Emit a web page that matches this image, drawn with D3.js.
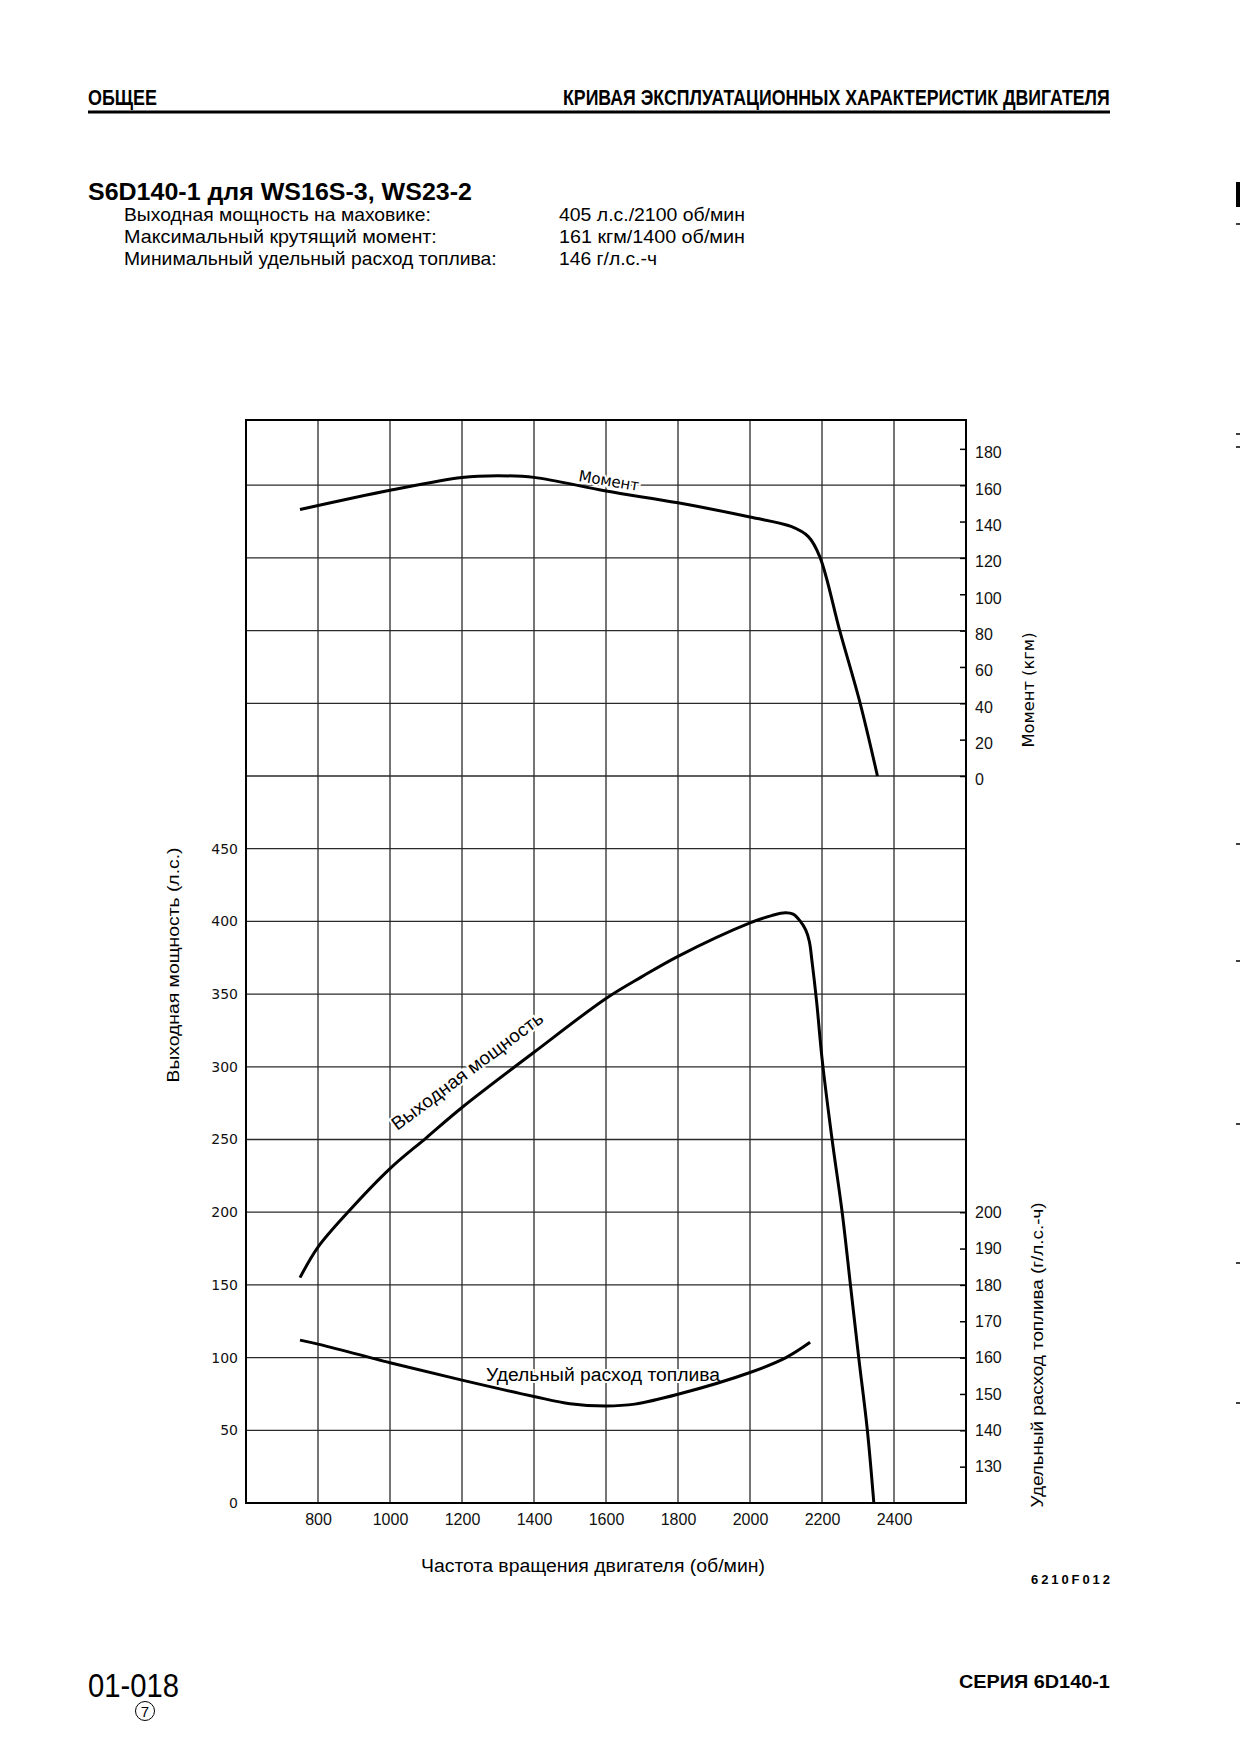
<!DOCTYPE html>
<html>
<head>
<meta charset="utf-8">
<script src="https://cdn.jsdelivr.net/npm/d3@7"></script>
<style>
  body { margin: 0; background: #fff; }
  svg { display: block; }
  .sans { font-family: "Liberation Sans", Arial, sans-serif; }
  .narrow { font-family: "Liberation Sans Narrow", "Liberation Sans", Arial, sans-serif; }
  .geo { font-family: "DejaVu Sans", sans-serif; }
</style>
</head>
<body>
<svg width="1240" height="1754"></svg>
<script>
// values
var rpmTicks = [800, 1000, 1200, 1400, 1600, 1800, 2000, 2200, 2400];
var rpmGrid = [600, 800, 1000, 1200, 1400, 1600, 1800, 2000, 2200, 2400, 2600];
var powerTicks = [0, 50, 100, 150, 200, 250, 300, 350, 400, 450];
var powerGrid = [0, 50, 100, 150, 200, 250, 300, 350, 400, 450, 500, 550, 600, 650, 700];
var torqueTicks = [0, 20, 40, 60, 80, 100, 120, 140, 160, 180];
var fuelTicks = [130, 140, 150, 160, 170, 180, 190, 200];

// [rpm, л.с.]
var powerCurve = [[750,155],[800,176],[883,200],[1000,230],[1100,251],[1200,272],[1400,310],
  [1600,347],[1700,362],[1800,376],[2000,399],[2060,404],[2098,406],[2120,405],[2140,400],
  [2155,394],[2165,386],[2172,373],[2185,345],[2200,306],[2228,250],[2256,200],[2279,150],
  [2302,100],[2326,50],[2344,0]];
// [rpm, кгм]
var torqueCurve = [[750,146.6],[1000,157.2],[1200,164.3],[1300,165.2],[1400,164.3],
  [1600,156.8],[1800,150.3],[2000,142.5],[2114,137.3],[2162,131.7],[2194,120.6],
  [2250,79.4],[2306,40],[2354,0]];
// [rpm, г/л.с.-ч]
var fuelCurve = [[750,164.8],[800,163.7],[1000,158.6],[1200,153.8],[1400,149.3],[1500,147.3],
  [1600,146.7],[1680,147.2],[1800,149.9],[2000,155.9],[2100,160],[2167,164.2]];

var specLabels = ["Выходная мощность на маховике:", "Максимальный крутящий момент:", "Минимальный удельный расход топлива:"];
var specValues = ["405 л.с./2100 об/мин", "161 кгм/1400 об/мин", "146 г/л.с.-ч"];

var svg = d3.select("svg");
svg.append("rect").attr("width", 1240).attr("height", 1754).attr("fill", "#fff");

var plotLeft = 246, plotRight = 966, plotTop = 420, plotBottom = 1503, rowH = 72.7;

var x = d3.scaleLinear().domain([600, 2600]).range([plotLeft, plotRight]);
var yPower = d3.scaleLinear().domain([0, 50]).range([plotBottom, plotBottom - rowH]);
var yTorque = d3.scaleLinear().domain([0, 40]).range([plotBottom - 10 * rowH, plotBottom - 11 * rowH]);
var yFuel = d3.scaleLinear().domain([120, 140]).range([plotBottom, plotBottom - rowH]);

// squeezed text: scale the glyphs horizontally to the width seen on the sheet
function squeezed(cls, t, x0, y0, fs, w, weight, anchor) {
  var g = svg.append("g");
  var el = g.append("text").attr("class", cls).attr("font-size", fs)
    .attr("font-weight", weight || "normal").text(t);
  var k = w / el.node().getComputedTextLength();
  var left0 = anchor === "end" ? x0 - w : x0;
  g.attr("transform", "translate(" + left0 + "," + y0 + ") scale(" + k + ",1)");
  return el;
}

// page header
squeezed("narrow", "ОБЩЕЕ", 88, 105, 22, 69, "bold");
squeezed("narrow", "КРИВАЯ ЭКСПЛУАТАЦИОННЫХ ХАРАКТЕРИСТИК ДВИГАТЕЛЯ", 1110, 105, 22, 547, "bold", "end");
svg.append("line").attr("x1", 88).attr("x2", 1110).attr("y1", 112).attr("y2", 112)
  .attr("stroke", "#000").attr("stroke-width", 3);

squeezed("sans", "S6D140-1 для WS16S-3, WS23-2", 88, 200, 24, 384, "bold");

var specW = [307, 313, 373];
var valW = [186, 186, 98];
specLabels.forEach(function(t, i) {
  squeezed("sans", t, 124, 221 + i * 22, 18, specW[i]);
  squeezed("sans", specValues[i], 559, 221 + i * 22, 18, valW[i]);
});

// grid
var grid = svg.append("g").attr("stroke", "#2a2a2a").attr("stroke-width", 1.3);
grid.selectAll("line.v").data(rpmGrid).enter().append("line").attr("class", "v")
  .attr("x1", d => x(d)).attr("x2", d => x(d))
  .attr("y1", plotTop).attr("y2", plotBottom);
grid.selectAll("line.h").data(powerGrid).enter().append("line").attr("class", "h")
  .attr("x1", plotLeft).attr("x2", plotRight)
  .attr("y1", d => yPower(d)).attr("y2", d => yPower(d));

// frame
svg.append("rect").attr("x", plotLeft).attr("y", plotTop)
  .attr("width", plotRight - plotLeft).attr("height", plotBottom - plotTop)
  .attr("fill", "none").attr("stroke", "#000").attr("stroke-width", 2);

// axes
var fmt = d3.format("d");
var axPower = svg.append("g").attr("transform", "translate(" + plotLeft + ",0)")
  .call(d3.axisLeft(yPower).tickValues(powerTicks).tickFormat(fmt).tickSize(0).tickPadding(8));
axPower.selectAll("text").attr("class", "geo").attr("font-size", 14).attr("fill", "#111");

var axTorque = svg.append("g").attr("transform", "translate(" + plotRight + ",0)")
  .call(d3.axisRight(yTorque).tickValues(torqueTicks).tickFormat(fmt).tickSize(-6).tickPadding(9));
axTorque.selectAll("text").attr("class", "sans").attr("font-size", 16).attr("fill", "#111").attr("dy", "0.55em");

var axFuel = svg.append("g").attr("transform", "translate(" + plotRight + ",0)")
  .call(d3.axisRight(yFuel).tickValues(fuelTicks).tickFormat(fmt).tickSize(-6).tickPadding(9));
axFuel.selectAll("text").attr("class", "sans").attr("font-size", 16).attr("fill", "#111");

var axRpm = svg.append("g").attr("transform", "translate(0," + plotBottom + ")")
  .call(d3.axisBottom(x).tickValues(rpmTicks).tickFormat(fmt).tickSize(0).tickPadding(11));
axRpm.selectAll("text").attr("class", "sans").attr("font-size", 16).attr("fill", "#111");

[axPower, axTorque, axFuel, axRpm].forEach(function(a) {
  a.select(".domain").remove();
  a.attr("font-family", null).attr("font-size", null);
  a.selectAll(".tick line").attr("stroke", "#000").attr("stroke-width", 1.5);
});

// axis titles
svg.append("text").attr("class", "sans").attr("transform", "translate(173,965) rotate(-90)")
  .attr("text-anchor", "middle").attr("dominant-baseline", "central").attr("font-size", 17)
  .attr("textLength", 235).attr("lengthAdjust", "spacingAndGlyphs").text("Выходная мощность (л.с.)");
svg.append("text").attr("class", "geo").attr("transform", "translate(1028,690) rotate(-90)")
  .attr("text-anchor", "middle").attr("dominant-baseline", "central").attr("font-size", 16)
  .attr("textLength", 115).attr("lengthAdjust", "spacingAndGlyphs").text("Момент (кгм)");
svg.append("text").attr("class", "sans").attr("transform", "translate(1037,1355) rotate(-90)")
  .attr("text-anchor", "middle").attr("dominant-baseline", "central").attr("font-size", 17)
  .attr("textLength", 305).attr("lengthAdjust", "spacingAndGlyphs").text("Удельный расход топлива (г/л.с.-ч)");
svg.append("text").attr("class", "sans").attr("x", 593).attr("y", 1572)
  .attr("text-anchor", "middle").attr("font-size", 18)
  .attr("textLength", 344).attr("lengthAdjust", "spacingAndGlyphs").text("Частота вращения двигателя (об/мин)");

// curve labels (white halo cuts the grid like on the sheet)
function curveLabel(cls, t, cx, cy, ang, fs, len) {
  svg.append("text").attr("class", cls)
    .attr("transform", "translate(" + cx + "," + cy + ") rotate(" + ang + ")")
    .attr("text-anchor", "middle").attr("font-size", fs)
    .attr("textLength", len).attr("lengthAdjust", "spacingAndGlyphs")
    .attr("stroke", "#fff").attr("stroke-width", 4).attr("paint-order", "stroke")
    .attr("fill", "#000").text(t);
}
curveLabel("geo", "Момент", 608, 486, 9.5, 15.5, 61);
curveLabel("sans", "Выходная мощность", 471, 1076, -36.8, 18.5, 184);
curveLabel("sans", "Удельный расход топлива", 603, 1381, 0, 18, 234);

// curves
var smooth = d3.curveCatmullRom.alpha(0.5);
var curves = svg.append("g").attr("fill", "none").attr("stroke", "#000")
  .attr("stroke-width", 3).attr("stroke-linejoin", "round");
curves.append("path").datum(torqueCurve)
  .attr("d", d3.line().x(d => x(d[0])).y(d => yTorque(d[1])).curve(smooth));
curves.append("path").datum(powerCurve)
  .attr("d", d3.line().x(d => x(d[0])).y(d => yPower(d[1])).curve(smooth));
curves.append("path").datum(fuelCurve)
  .attr("d", d3.line().x(d => x(d[0])).y(d => yFuel(d[1])).curve(smooth));

// figure code and page footer
svg.append("text").attr("class", "sans").attr("x", 1110).attr("y", 1584)
  .attr("text-anchor", "end").attr("font-size", 13).attr("font-weight", "bold")
  .attr("textLength", 79).attr("lengthAdjust", "spacing").text("6210F012");
squeezed("narrow", "01-018", 88, 1697, 34, 91);
svg.append("circle").attr("cx", 145).attr("cy", 1711).attr("r", 9.5)
  .attr("fill", "none").attr("stroke", "#000").attr("stroke-width", 1);
svg.append("text").attr("class", "narrow").attr("x", 145).attr("y", 1716.5)
  .attr("text-anchor", "middle").attr("font-size", 15).text("7");
squeezed("sans", "СЕРИЯ 6D140-1", 1110, 1688, 19, 151, "bold", "end");

// scan marks on the right page edge
svg.append("rect").attr("x", 1236).attr("y", 182).attr("width", 4).attr("height", 25).attr("fill", "#000");
var edgeMarks = [224, 434, 447, 844, 961, 1124, 1263, 1403];
svg.selectAll("line.edge").data(edgeMarks).enter().append("line").attr("class", "edge")
  .attr("x1", 1236).attr("x2", 1240).attr("y1", d => d).attr("y2", d => d)
  .attr("stroke", "#000").attr("stroke-width", 1.5);
</script>
</body>
</html>
